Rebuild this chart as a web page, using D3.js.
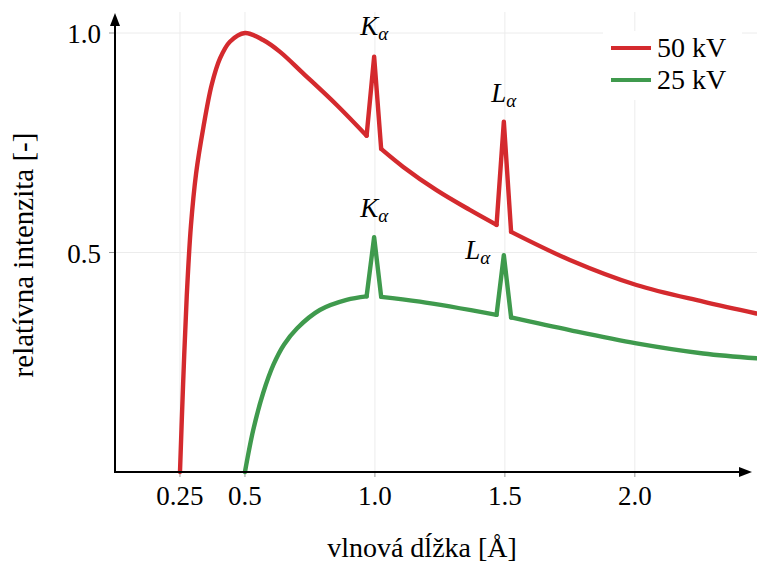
<!DOCTYPE html>
<html><head><meta charset="utf-8">
<script src="https://cdn.jsdelivr.net/npm/d3@7"></script>
<style>
body{margin:0;background:#fff;}
svg{display:block;font-family:"Liberation Serif","Times New Roman",serif;}
</style></head>
<body><svg id="c" width="757" height="563"></svg>
<script>
// ---- data ----
const xTicks = [0.25, 0.5, 1.0, 1.5, 2.0];
const xTickLabels = ["0.25", "0.5", "1.0", "1.5", "2.0"];
const yTicks = [0.5, 1.0];
const yTickLabels = ["0.5", "1.0"];
const seriesNames = ["50 kV", "25 kV"];
const seriesColors = ["#d42a2e", "#3f9a4d"];

const wl50 = [0.25, 0.262, 0.276, 0.292, 0.312, 0.340, 0.372, 0.404, 0.442, 0.5, 0.570, 0.635, 0.724, 0.853, 0.968, 0.997, 1.024, 1.109, 1.237, 1.365, 1.468, 1.496, 1.524, 1.75, 2.006, 2.263, 2.468];
const int50 = [0.0, 0.200, 0.400, 0.560, 0.680, 0.785, 0.882, 0.942, 0.980, 1.0, 0.984, 0.957, 0.908, 0.836, 0.766, 0.946, 0.736, 0.695, 0.642, 0.597, 0.563, 0.798, 0.547, 0.483, 0.426, 0.388, 0.361];

const wl25 = [0.5, 0.532, 0.570, 0.61, 0.65, 0.70, 0.788, 0.891, 0.968, 0.997, 1.024, 1.173, 1.468, 1.496, 1.524, 1.75, 2.006, 2.263, 2.468];
const int25 = [0.0, 0.096, 0.180, 0.245, 0.290, 0.327, 0.369, 0.392, 0.400, 0.535, 0.399, 0.388, 0.358, 0.494, 0.352, 0.323, 0.293, 0.270, 0.259];

const peakWl = [0.997, 1.496];

// ---- drawing ----
const svg = d3.select("#c");
const x = d3.scaleLinear().domain([0, 2.47]).range([115, 757]);
const y = d3.scaleLinear().domain([0, 1]).range([472, 33]);
const gridTop = 12;

// grid
const grid = svg.append("g").attr("stroke", "#ececec").attr("stroke-width", 1);
grid.selectAll(".gv").data(xTicks).join("line")
  .attr("x1", d => x(d)).attr("x2", d => x(d)).attr("y1", gridTop).attr("y2", y(0));
grid.selectAll(".gh").data(yTicks).join("line")
  .attr("x1", x(0)).attr("x2", 757).attr("y1", d => y(d)).attr("y2", d => y(d));

// ticks
svg.append("g").selectAll("line").data(xTicks).join("line")
  .attr("x1", d => x(d)).attr("x2", d => x(d)).attr("y1", y(0)).attr("y2", y(0) + 5)
  .attr("stroke", "#999").attr("stroke-width", 1);
svg.append("g").selectAll("line").data(yTicks).join("line")
  .attr("x1", x(0) - 6).attr("x2", x(0)).attr("y1", d => y(d)).attr("y2", d => y(d))
  .attr("stroke", "#999").attr("stroke-width", 1);

// tick labels
svg.append("g").selectAll("text").data(xTicks).join("text")
  .attr("x", d => x(d)).attr("y", 505).attr("text-anchor", "middle")
  .attr("font-size", 27).text((d, i) => xTickLabels[i]);
svg.append("g").selectAll("text").data(yTicks).join("text")
  .attr("x", 101).attr("y", d => y(d) + 10).attr("text-anchor", "end")
  .attr("font-size", 27).text((d, i) => yTickLabels[i]);

// curves: smooth continuum segments, straight spike segments
const smooth = d3.line().x(d => x(d[0])).y(d => y(d[1])).curve(d3.curveCatmullRom.alpha(0.5));
const straight = d3.line().x(d => x(d[0])).y(d => y(d[1]));
function pieces(wl, val) {
  const pts = d3.zip(wl, val);
  const idx = peakWl.map(p => wl.indexOf(p));
  const out = [];
  let start = 0;
  idx.forEach(k => {
    out.push({pts: pts.slice(start, k), smooth: true});
    out.push({pts: pts.slice(k - 1, k + 2), smooth: false});
    start = k + 1;
  });
  out.push({pts: pts.slice(start), smooth: true});
  return out;
}
[[wl50, int50], [wl25, int25]].forEach(([wl, val], i) => {
  svg.append("g").selectAll("path").data(pieces(wl, val)).join("path")
    .attr("d", p => p.smooth ? smooth(p.pts) : straight(p.pts))
    .attr("fill", "none").attr("stroke", seriesColors[i]).attr("stroke-width", 4.4)
    .attr("stroke-linejoin", "round").attr("stroke-linecap", "round");
});

// axes with arrows
svg.append("line").attr("x1", x(0)).attr("x2", x(0)).attr("y1", y(0) + 1).attr("y2", 22)
  .attr("stroke", "#000").attr("stroke-width", 2);
svg.append("path").attr("d", `M${x(0)},13 L${x(0)-5},26 L${x(0)+5},26 Z`).attr("fill", "#000");
svg.append("line").attr("x1", x(0) - 1).attr("x2", 742).attr("y1", y(0)).attr("y2", y(0))
  .attr("stroke", "#000").attr("stroke-width", 2);
svg.append("path").attr("d", `M752,${y(0)} L739,${y(0)-5} L739,${y(0)+5} Z`).attr("fill", "#000");

// peak labels
function peakLabel(px, py, name) {
  const t = svg.append("text").attr("x", px).attr("y", py).attr("text-anchor", "middle")
    .attr("font-size", 27);
  t.append("tspan").attr("font-style", "italic").text(name);
  t.append("tspan").attr("font-style", "italic").attr("font-size", 19).attr("dy", 5).text("α");
}
peakLabel(x(peakWl[0]), y(int50[wl50.indexOf(peakWl[0])]) - 22, "K");
peakLabel(x(peakWl[1]), y(int50[wl50.indexOf(peakWl[1])]) - 20, "L");
peakLabel(x(peakWl[0]), y(int25[wl25.indexOf(peakWl[0])]) - 20, "K");
peakLabel(x(peakWl[1]) - 26, y(int25[wl25.indexOf(peakWl[1])]) + 4, "L");

// axis titles
svg.append("text").attr("x", 422).attr("y", 557).attr("text-anchor", "middle")
  .attr("font-size", 28).text("vlnová dĺžka [Å]");
svg.append("text").attr("transform", "translate(33,255) rotate(-90)")
  .attr("text-anchor", "middle").attr("font-size", 29).text("relatívna intenzita [-]");

// legend
const lg = svg.append("g");
lg.append("rect").attr("x", 603).attr("y", 31).attr("width", 139).attr("height", 69).attr("fill", "#fff");
seriesNames.forEach((n, i) => {
  const yy = 48 + i * 32;
  lg.append("line").attr("x1", 611).attr("x2", 651).attr("y1", yy).attr("y2", yy)
    .attr("stroke", seriesColors[i]).attr("stroke-width", 4);
  lg.append("text").attr("x", 657).attr("y", yy + 9).attr("font-size", 28).text(n);
});
</script></body></html>
